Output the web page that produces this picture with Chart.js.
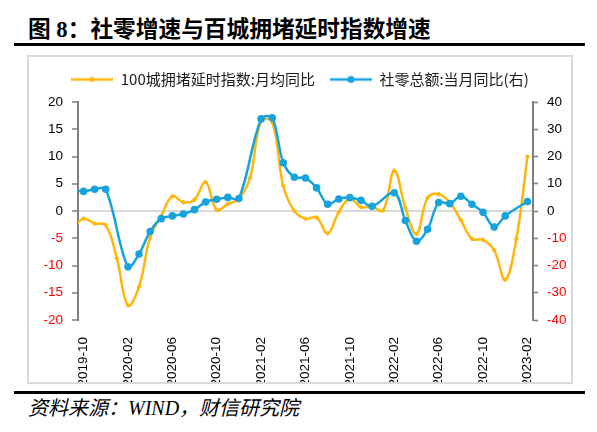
<!DOCTYPE html>
<html><head><meta charset="utf-8">
<script src="https://cdn.jsdelivr.net/npm/chart.js@4/dist/chart.umd.min.js"></script>
<style>
body{margin:0;width:597px;height:432px;background:#fff;position:relative;overflow:hidden;font-family:"Noto Sans CJK SC",sans-serif;}
#title{position:absolute;left:28px;top:15px;font-family:"Liberation Serif","Noto Sans CJK SC";font-size:22.7px;font-weight:bold;line-height:30px;white-space:nowrap;color:#000}
.rule{position:absolute;left:14px;width:571px;height:3px;background:#000}
#box{position:absolute;left:27px;top:55px;width:546px;height:329px;border:2px solid #d9d9d9;box-sizing:border-box}
#box canvas{display:block}
#foot{position:absolute;left:28px;top:395px;font-family:"Liberation Serif","Noto Sans CJK SC";font-size:20px;font-style:italic;line-height:26px;white-space:nowrap;color:#000}
</style></head>
<body>
<div id="title">图 8：社零增速与百城拥堵延时指数增速</div>
<div class="rule" style="top:43px"></div>
<div id="box"><canvas id="c" width="542" height="325"></canvas></div>
<div class="rule" style="top:391px"></div>
<div id="foot">资料来源：WIND，财信研究院</div>
<script>
// Monthly categories (first month lies just outside the visible axis range)
const months = ["2019-09","2019-10","2019-11","2019-12",
 "2020-01","2020-02","2020-03","2020-04","2020-05","2020-06","2020-07","2020-08","2020-09","2020-10","2020-11","2020-12",
 "2021-01","2021-02","2021-03","2021-04","2021-05","2021-06","2021-07","2021-08","2021-09","2021-10","2021-11","2021-12",
 "2022-01","2022-02","2022-03","2022-04","2022-05","2022-06","2022-07","2022-08","2022-09","2022-10","2022-11","2022-12",
 "2023-01","2023-02"];
// 100城拥堵延时指数:月均同比 (left axis, %)
const congestion = [-3.2,-1.4,-2.3,-2.6,
 -8.7,-17.3,-13.9,-4.8,-0.9,2.7,1.6,2.1,5.3,0.2,1.3,2.2,
 6.1,16.5,16.3,4.6,0.0,-1.4,-1.2,-4.1,-0.2,2.3,0.7,0.8,
 0.1,7.4,0.6,-4.2,2.4,3.1,1.6,-1.7,-5.1,-5.3,-7.2,-12.6,
 -5.1,10.0];
// 社零总额:当月同比 (right axis, %), January merged into February
const retail = [7.8,7.2,8.0,8.0,
 null,-20.5,-15.8,-7.5,-2.8,-1.8,-1.1,0.5,3.3,4.3,5.0,4.6,
 null,33.8,34.2,17.7,12.4,12.1,8.5,2.5,4.4,4.9,3.9,1.7,
 null,6.7,-3.5,-11.1,-6.7,3.1,2.7,5.4,2.5,-0.5,-5.9,-1.8,
 null,3.5];
const shownLabels = ["2019-10","2020-02","2020-06","2020-10","2021-02","2021-06","2021-10","2022-02","2022-06","2022-10","2023-02"];
const seriesNames = ["100城拥堵延时指数:月均同比","社零总额:当月同比(右)"];

const ORANGE = '#FFB70D', BLUE = '#17A3DD', AXIS = '#7f7f7f';

function icon(color, kind){
  const c=document.createElement('canvas'); c.width=42; c.height=10;
  const g=c.getContext('2d'); g.strokeStyle=color; g.lineWidth=2.5;
  g.beginPath(); g.moveTo(0,5); g.lineTo(42,5); g.stroke(); g.fillStyle=color;
  g.beginPath();
  if(kind==='diamond'){ g.moveTo(21,1.8); g.lineTo(24.2,5); g.lineTo(21,8.2); g.lineTo(17.8,5); g.closePath(); }
  else { g.arc(21,5,3.6,0,Math.PI*2); }
  g.fill(); return c;
}
const icons=[icon(ORANGE,'diamond'), icon(BLUE,'circle')];

const tickFont={family:'"Liberation Sans", Arial, sans-serif', size:13.5};
const negColor = ctx => (ctx.tick && ctx.tick.value < 0) ? '#FF0000' : '#000000';

new Chart(document.getElementById('c'), {
  type:'line',
  data:{ labels: months, datasets:[
    {label:seriesNames[0], data:congestion, yAxisID:'y', borderColor:ORANGE, backgroundColor:ORANGE,
     borderWidth:2.5, tension:0.4, pointStyle:'rectRot', pointRadius:2.6, pointBorderWidth:0, order:1,
     clip:{left:0,top:10,right:10,bottom:10}},
    {label:seriesNames[1], data:retail, yAxisID:'y1', borderColor:BLUE, backgroundColor:BLUE,
     borderWidth:2.5, tension:0.35, spanGaps:true, pointStyle:'circle', pointRadius:3.8, pointBorderWidth:0, order:0,
     clip:{left:0,top:10,right:10,bottom:10}}
  ]},
  options:{
    responsive:false, animation:false, events:[],
    layout:{padding:0},
    plugins:{
      tooltip:{enabled:false},
      legend:{display:true, position:'top', align:'center',
        labels:{usePointStyle:true, pointStyleWidth:42, padding:15, color:'#1a1a1a',
          font:{family:'"Noto Sans CJK SC", sans-serif', size:15},
          sort:(a,b)=>a.datasetIndex-b.datasetIndex,
          generateLabels(chart){
            const items = Chart.defaults.plugins.legend.labels.generateLabels(chart);
            items.forEach(it=>{ it.pointStyle = icons[it.datasetIndex]; });
            return items;
          }}}
    },
    scales:{
      x:{type:'category', min:'2019-10', offset:true,
         grid:{display:false}, border:{display:false},
         ticks:{autoSkip:false, minRotation:90, maxRotation:90, padding:9, color:'#000', font:tickFont,
           callback(v){ const l=months[v]; return shownLabels.includes(l) ? l : ''; }},
         afterFit(s){ s.height=62; }},
      y:{position:'left', min:-20, max:20,
         ticks:{stepSize:5, padding:9, color:negColor, font:tickFont},
         grid:{color:ctx=>(ctx.tick && ctx.tick.value===0)?'#d9d9d9':'rgba(0,0,0,0)', lineWidth:2,
               tickColor:AXIS, tickLength:6, tickWidth:1.5},
         border:{display:true, color:AXIS, width:2},
         afterFit(s){ s.width=49; }},
      y1:{position:'right', min:-40, max:40,
         ticks:{stepSize:10, padding:9, color:negColor, font:tickFont},
         grid:{drawOnChartArea:false, tickColor:AXIS, tickLength:5, tickWidth:1.5},
         border:{display:true, color:AXIS, width:2},
         afterFit(s){ s.width=38; }}
    }
  },
  plugins:[{id:'legendHeight', afterInit(chart){
    const lg = chart.legend; const orig = lg.fit;
    lg.fit = function(){ orig.call(this); this.height = 45; };
  }}]
});
</script>
</body></html>
